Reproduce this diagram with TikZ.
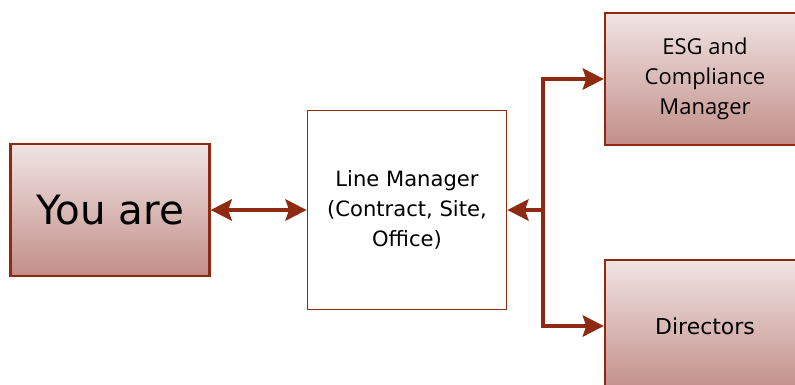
\documentclass[tikz,border=0pt]{standalone}
\usepackage{fontspec}
\setmainfont{Open Sans}
\newfontfamily\dejavu{DejaVu Sans}
\usetikzlibrary{arrows.meta}
\definecolor{rust}{HTML}{8E2A12}
\definecolor{rosetop}{HTML}{F0E4E4}
\definecolor{rosebot}{HTML}{C28E88}
\tikzset{
roleshade/.style={draw=rust, line width=1.3pt, top color=rosetop, bottom color=rosebot,
  minimum width=4cm, minimum height=2.65cm, align=center, inner sep=2pt,
  font=\fontsize{12.5}{17}\selectfont},
plainbox/.style={draw=rust, line width=1pt, fill=white, minimum width=3.98cm,
  minimum height=3.98cm, align=center, font=\dejavu\fontsize{12}{17}\selectfont},
link/.style={draw=rust, line width=2.6pt, >={Stealth[length=12pt,width=12pt,inset=2pt]}}
}
\begin{document}
\begin{tikzpicture}[x=0.02cm, y=-0.02cm]
\useasboundingbox (0,0) rectangle (795,385);
\clip (0,0) rectangle (795,385);
  % boxes
  \node[roleshade, minimum width=3.98cm] (you) at (110,210) {\dejavu\fontsize{23}{27}\selectfont You are};
  \node[plainbox] (lm) at (407,210) {Line Manager\\(Contract, Site,\\Office)};
  \node[roleshade] (esg) at (705,79) {ESG and\\Compliance\\Manager};
  \node[roleshade] (dir) at (705,326) {\dejavu Directors};
  \coordinate (split) at (543,210);
  % links
  \draw[link, <->] (you) -- (lm);
  \draw[link, ->] (split) -- (lm);
  \draw[link, ->] (split) |- (esg);
  \draw[link, ->] (split) |- (dir);
\end{tikzpicture}
\end{document}
